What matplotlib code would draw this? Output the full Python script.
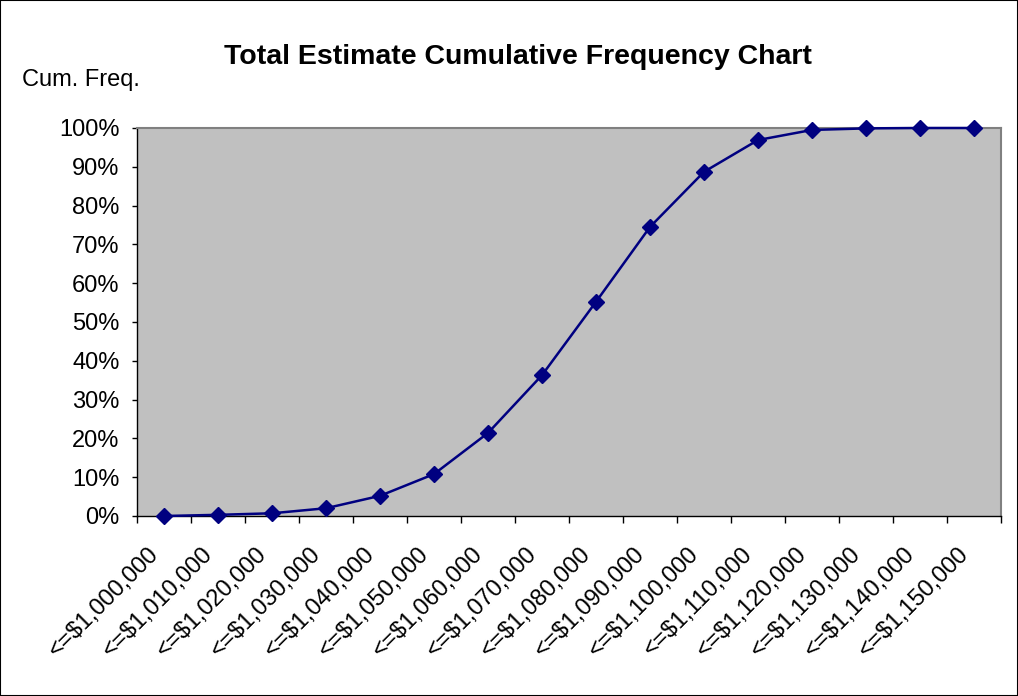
import matplotlib
matplotlib.use("Agg")
import matplotlib.pyplot as plt
from matplotlib.patches import Rectangle

categories = ["<=$1,000,000", "<=$1,010,000", "<=$1,020,000", "<=$1,030,000",
              "<=$1,040,000", "<=$1,050,000", "<=$1,060,000", "<=$1,070,000",
              "<=$1,080,000", "<=$1,090,000", "<=$1,100,000", "<=$1,110,000",
              "<=$1,120,000", "<=$1,130,000", "<=$1,140,000", "<=$1,150,000"]
cum_freq = [0.0, 0.3, 0.7, 2.0, 5.2, 10.8, 21.4, 36.3, 55.2, 74.5, 88.7, 96.9,
            99.5, 99.9, 100.0, 100.0]
yticks = [0, 10, 20, 30, 40, 50, 60, 70, 80, 90, 100]
ytick_labels = [f"{v}%" for v in yticks]

plt.rcParams['font.family'] = ['Liberation Sans', 'DejaVu Sans']

W, H = 1018, 696
fig = plt.figure(figsize=(W / 100, H / 100), dpi=100)
fig.patches.append(Rectangle((0, 0), 1, 1, transform=fig.transFigure, fill=False,
                             edgecolor='black', linewidth=1.5, clip_on=False))

left, right, top, bottom = 137, 1001, 128, 516
ax = fig.add_axes([left / W, 1 - bottom / H, (right - left) / W, (bottom - top) / H])
ax.set_facecolor('#C0C0C0')

n = len(categories)
x = list(range(n))
ax.plot(x, cum_freq, color='#000080', linewidth=1.8, marker='D', markersize=8.5,
        markerfacecolor='#000080', markeredgecolor='#000080', clip_on=False, zorder=3)

ax.set_xlim(-0.5, n - 0.5)
ax.set_ylim(0, 100)

ax.set_yticks(yticks)
ax.set_yticklabels(ytick_labels, fontsize=17)
ax.tick_params(axis='y', direction='out', length=3.6, width=1, color='black', pad=9)

ax.set_xticks([i - 0.5 for i in range(n + 1)])
ax.set_xticklabels([])
ax.tick_params(axis='x', direction='out', length=5, width=1, color='black')
for i, lab in enumerate(categories):
    ax.text(i - 0.3, -7.0, lab, rotation=45, ha='right', va='top',
            rotation_mode='anchor', fontsize=17, transform=ax.transData)

for s in ['top', 'right']:
    ax.spines[s].set_color('#808080')
    ax.spines[s].set_linewidth(1.5)
for s in ['left', 'bottom']:
    ax.spines[s].set_color('black')
    ax.spines[s].set_linewidth(1.0)

fig.text(518 / W, 1 - 57 / H, "Total Estimate Cumulative Frequency Chart",
         ha='center', va='center', fontsize=20.5, fontweight='bold')
fig.text(22 / W, 1 - 80 / H, "Cum. Freq.", ha='left', va='center', fontsize=17)

fig.savefig("out.png", dpi=100)
